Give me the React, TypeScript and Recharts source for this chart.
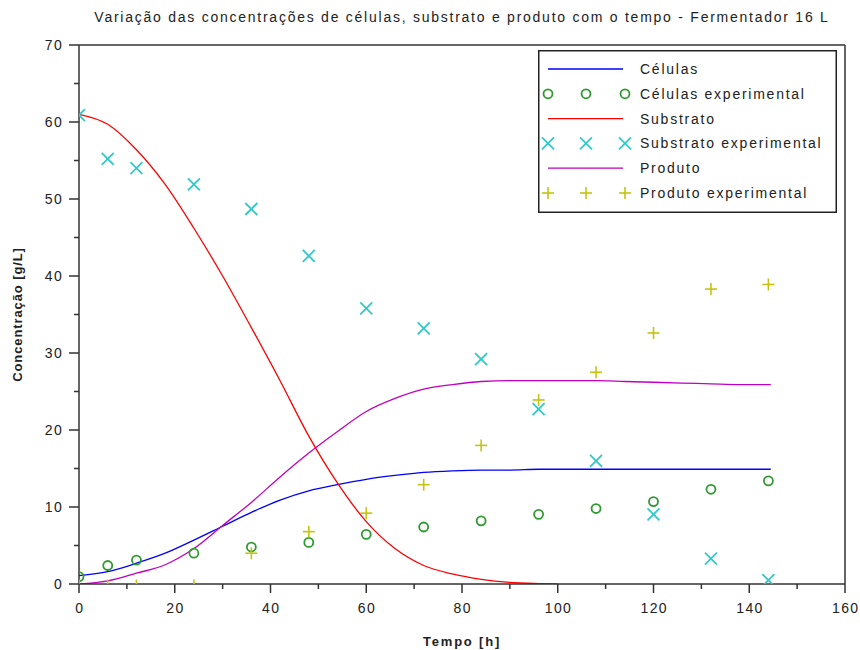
import React from 'react';
import {
  ComposedChart,
  Line,
  Scatter,
  XAxis,
  YAxis,
  ReferenceLine,
} from 'recharts';

// experimental sampling times [h]
const expTimes = [0, 6, 12, 24, 36, 48, 60, 72, 84, 96, 108, 120, 132, 144];
const celulasExp = [0.95, 2.4, 3.1, 4.0, 4.8, 5.4, 6.45, 7.4, 8.2, 9.05, 9.8, 10.7, 12.3, 13.4];
const substratoExp = [60.9, 55.2, 54.0, 51.9, 48.7, 42.6, 35.8, 33.2, 29.2, 22.7, 16.0, 9.05, 3.3, 0.5];
const produtoExp = [-0.2, -0.2, -0.2, -0.2, 4.0, 6.8, 9.2, 12.9, 18.0, 23.9, 27.5, 32.6, 38.3, 38.9];

// model curves
const modelTimes = [0, 6, 12, 18, 24, 30, 36, 42, 48, 54, 60, 66, 72, 78, 84, 90, 96, 102, 108, 114, 120, 126, 132, 138, 144.5];
const celulasModel = [1.1, 1.6, 2.7, 4.0, 5.7, 7.5, 9.3, 10.9, 12.1, 12.9, 13.6, 14.1, 14.5, 14.7, 14.8, 14.8, 14.9, 14.9, 14.9, 14.9, 14.9, 14.9, 14.9, 14.9, 14.9];
const produtoModel = [0, 0.4, 1.4, 2.5, 4.6, 7.6, 10.6, 13.9, 17.0, 19.8, 22.4, 24.1, 25.3, 25.9, 26.3, 26.4, 26.4, 26.4, 26.4, 26.3, 26.2, 26.1, 26.0, 25.9, 25.9];
const substratoTimes = [0, 6, 12, 18, 24, 30, 36, 42, 48, 54, 60, 66, 72, 78, 84, 90, 96, 100];
const substratoModel = [61.0, 59.7, 56.4, 51.9, 46.2, 40.0, 33.3, 26.4, 19.2, 13.1, 8.1, 4.6, 2.4, 1.3, 0.6, 0.2, 0.05, 0];

const xTicks = [0, 10, 20, 30, 40, 50, 60, 70, 80, 90, 100, 110, 120, 130, 140, 150, 160];
const yTicks = [0, 5, 10, 15, 20, 25, 30, 35, 40, 45, 50, 55, 60, 65, 70];

const toPoints = (ts: number[], vs: number[]) => ts.map((t, i) => ({ t, v: vs[i] }));

const FONT = "'Liberation Sans', Arial, sans-serif";
const AXIS = '#333';
const TXT = '#222';
const C_BLUE = '#0000ff';
const C_RED = '#ff0000';
const C_MAG = '#c000c0';
const C_GREEN = '#2f9a2f';
const C_CYAN = '#33c8c8';
const C_YEL = '#c4c410';

const Circle = (p: any) => (
  <circle cx={p.cx} cy={p.cy} r={4.5} fill="none" stroke={C_GREEN} strokeWidth={1.8} />
);
const Cross = (p: any) => (
  <g stroke={C_CYAN} strokeWidth={1.8}>
    <line x1={p.cx - 6} y1={p.cy - 6} x2={p.cx + 6} y2={p.cy + 6} />
    <line x1={p.cx - 6} y1={p.cy + 6} x2={p.cx + 6} y2={p.cy - 6} />
  </g>
);
const Plus = (p: any) => (
  <g stroke={C_YEL} strokeWidth={1.6}>
    <line x1={p.cx - 6} y1={p.cy} x2={p.cx + 6} y2={p.cy} />
    <line x1={p.cx} y1={p.cy - 6} x2={p.cx} y2={p.cy + 6} />
  </g>
);

const XTick = (props: any) => {
  const { x, y, payload } = props;
  const major = payload.value % 20 === 0;
  return (
    <g>
      <line x1={x} x2={x} y1={y} y2={y + (major ? 9 : 5)} stroke={AXIS} strokeWidth={1.5} />
      {major && (
        <text x={x + 0.7} y={y + 29} textAnchor="middle" fontSize={14} letterSpacing={1.3} fontFamily={FONT} fill={TXT}>
          {payload.value}
        </text>
      )}
    </g>
  );
};

const YTick = (props: any) => {
  const { x, y, payload } = props;
  const major = payload.value % 10 === 0;
  return (
    <g>
      <line x1={x} x2={x - (major ? 10 : 5)} y1={y} y2={y} stroke={AXIS} strokeWidth={1.5} />
      {major && (
        <text x={x - 16} y={y + 5} textAnchor="end" fontSize={14} letterSpacing={1.3} fontFamily={FONT} fill={TXT}>
          {payload.value}
        </text>
      )}
    </g>
  );
};

const legendRows = [
  { label: 'Células', kind: 'line', color: C_BLUE },
  { label: 'Células experimental', kind: 'circle', color: C_GREEN },
  { label: 'Substrato', kind: 'line', color: C_RED },
  { label: 'Substrato experimental', kind: 'cross', color: C_CYAN },
  { label: 'Produto', kind: 'line', color: C_MAG },
  { label: 'Produto experimental', kind: 'plus', color: C_YEL },
];

const LegendBox = () => (
  <svg width={299} height={163} style={{ display: 'block' }}>
    <rect x={0.75} y={0.75} width={297.5} height={161.5} fill="#fff" stroke="#222" strokeWidth={1.5} />
    {legendRows.map((r, i) => {
      const cy = 19 + i * 24.8;
      const xs = [10, 48, 87];
      return (
        <g key={r.label}>
          {r.kind === 'line' && <line x1={10} x2={85} y1={cy} y2={cy} stroke={r.color} strokeWidth={1.3} />}
          {r.kind === 'circle' && xs.map((cx) => <Circle key={cx} cx={cx} cy={cy} />)}
          {r.kind === 'cross' && xs.map((cx) => <Cross key={cx} cx={cx} cy={cy} />)}
          {r.kind === 'plus' && xs.map((cx) => <Plus key={cx} cx={cx} cy={cy} />)}
          <text x={102} y={cy + 5} fontSize={14} fontFamily={FONT} fill={TXT} letterSpacing={1.75}>
            {r.label}
          </text>
        </g>
      );
    })}
  </svg>
);

export default function App() {
  return (
    <div style={{ position: 'absolute', left: 0, top: 0, width: 860, height: 650, background: '#fff' }}>
      <div
        style={{
          position: 'absolute',
          left: 79,
          width: 766,
          top: 9,
          textAlign: 'center',
          fontFamily: FONT,
          fontSize: 14,
          letterSpacing: 1.75,
          color: TXT,
          whiteSpace: 'nowrap',
        }}
      >
        Variação das concentrações de células, substrato e produto com o tempo - Fermentador 16 L
      </div>
      <ComposedChart width={860} height={650} margin={{ top: 45, right: 15, bottom: 0, left: 0 }}>
        <XAxis
          dataKey="t"
          type="number"
          domain={[0, 160]}
          allowDataOverflow
          ticks={xTicks}
          interval={0}
          height={66}
          tickSize={0}
          tickMargin={0}
          tickLine={false}
          tick={<XTick />}
          axisLine={{ stroke: AXIS, strokeWidth: 1.5 }}
          label={{ value: 'Tempo [h]', position: 'insideBottom', offset: 4, fontSize: 13, fontWeight: 'bold', fontFamily: FONT, fill: TXT, letterSpacing: 1.8 }}
        />
        <YAxis
          dataKey="v"
          type="number"
          domain={[0, 70]}
          allowDataOverflow
          ticks={yTicks}
          interval={0}
          width={79}
          tickSize={0}
          tickMargin={0}
          tickLine={false}
          tick={<YTick />}
          axisLine={{ stroke: AXIS, strokeWidth: 1.5 }}
          label={{ value: 'Concentração [g/L]', angle: -90, position: 'insideLeft', offset: 17, fontSize: 13, fontWeight: 'bold', fontFamily: FONT, fill: TXT, letterSpacing: 0.9, style: { textAnchor: 'middle' } }}
        />
        <ReferenceLine y={70} stroke={AXIS} strokeWidth={1.5} />
        <ReferenceLine x={160} stroke={AXIS} strokeWidth={1.5} />

        <Line data={toPoints(modelTimes, celulasModel)} dataKey="v" type="monotone" stroke={C_BLUE} strokeWidth={1.3} dot={false} isAnimationActive={false} />
        <Line data={toPoints(substratoTimes, substratoModel)} dataKey="v" type="monotone" stroke={C_RED} strokeWidth={1.3} dot={false} isAnimationActive={false} />
        <Line data={toPoints(modelTimes, produtoModel)} dataKey="v" type="monotone" stroke={C_MAG} strokeWidth={1.3} dot={false} isAnimationActive={false} />

        <Scatter data={toPoints(expTimes, celulasExp)} shape={<Circle />} isAnimationActive={false} />
        <Scatter data={toPoints(expTimes, substratoExp)} shape={<Cross />} isAnimationActive={false} />
        <Scatter data={toPoints(expTimes, produtoExp)} shape={<Plus />} isAnimationActive={false} />
      </ComposedChart>
      <div style={{ position: 'absolute', left: 538, top: 50 }}>
        <LegendBox />
      </div>
    </div>
  );
}
